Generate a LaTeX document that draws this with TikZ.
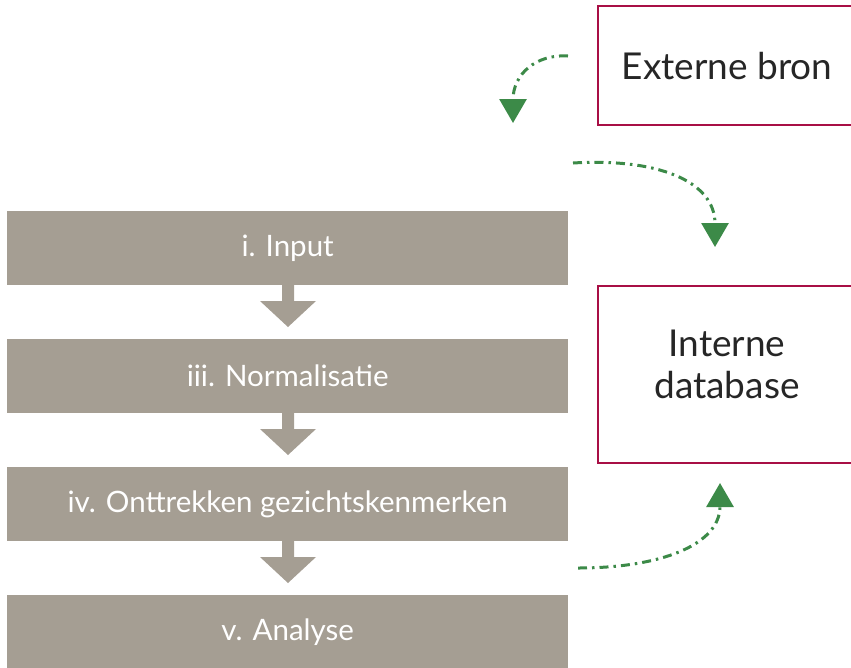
\documentclass[tikz,border=0pt]{standalone}
\usepackage{fontspec}
\setmainfont{Lato}
\usetikzlibrary{arrows.meta}
\definecolor{boxgray}{HTML}{A59E93}
\definecolor{dbred}{HTML}{A80F45}
\definecolor{flowgreen}{HTML}{3C8A48}
\tikzset{
  stepbox/.style={fill=boxgray, draw=none, minimum width=561pt, minimum height=74pt, anchor=north west, inner sep=0pt,
    text=white, font=\fontsize{29.5}{34}\selectfont},
  sidebox/.style={draw=dbred, line width=1.6pt, fill=none, minimum width=260pt, anchor=north west, inner sep=0pt},
  sidetext/.style={text=black!85, font=\fontsize{37}{42}\selectfont, align=center, inner sep=0pt},
  grayarrow/.style={fill=boxgray, draw=none},
  greenflow/.style={draw=flowgreen, line width=3pt, dash pattern=on 9pt off 5pt on 2.5pt off 5pt,
    -{Triangle[width=27pt,length=24pt,fill=flowgreen]}}
}
\begin{document}
\begin{tikzpicture}[x=1pt,y=-1pt]
\useasboundingbox (0,0) rectangle (851,667);
% step boxes
\node[stepbox] (input) at (7,211) {i. Input};
\node[stepbox] (norm) at (7,339) {iii. Normalisatie};
\node[stepbox] (feat) at (7,467) {iv. Onttrekken gezichtskenmerken};
\node[stepbox] (anal) at (7,595) {v. Analyse};
% gray arrows
\foreach \t in {285,413,541}{
  \fill[grayarrow] (282,\t) -- (294,\t) -- (294,\t+16) -- (316,\t+16) -- (288,\t+42) -- (260,\t+16) -- (282,\t+16) -- cycle;
}
% side boxes
\node[sidebox, minimum height=119pt] (ext) at (597,5) {};
\node[sidetext] (exttext) at (727,66) {Externe bron};
\node[sidebox, minimum height=177pt] (db) at (597,285) {};
\node[sidetext] (dbtext) at (727,364) {Interne\\database};
% green flows
\coordinate (s1) at (568,56);
\coordinate (e1) at (513,123);
\coordinate (s2) at (573,163);
\coordinate (e2) at (715,247);
\coordinate (s3) at (578,568);
\coordinate (e3) at (720,483);
\draw[greenflow] (s1) .. controls (535,54) and (513,75) .. (e1);
\draw[greenflow] (s2) .. controls (655,158) and (715,180) .. (e2);
\draw[greenflow] (s3) .. controls (660,568) and (720,545) .. (e3);
\end{tikzpicture}
\end{document}
